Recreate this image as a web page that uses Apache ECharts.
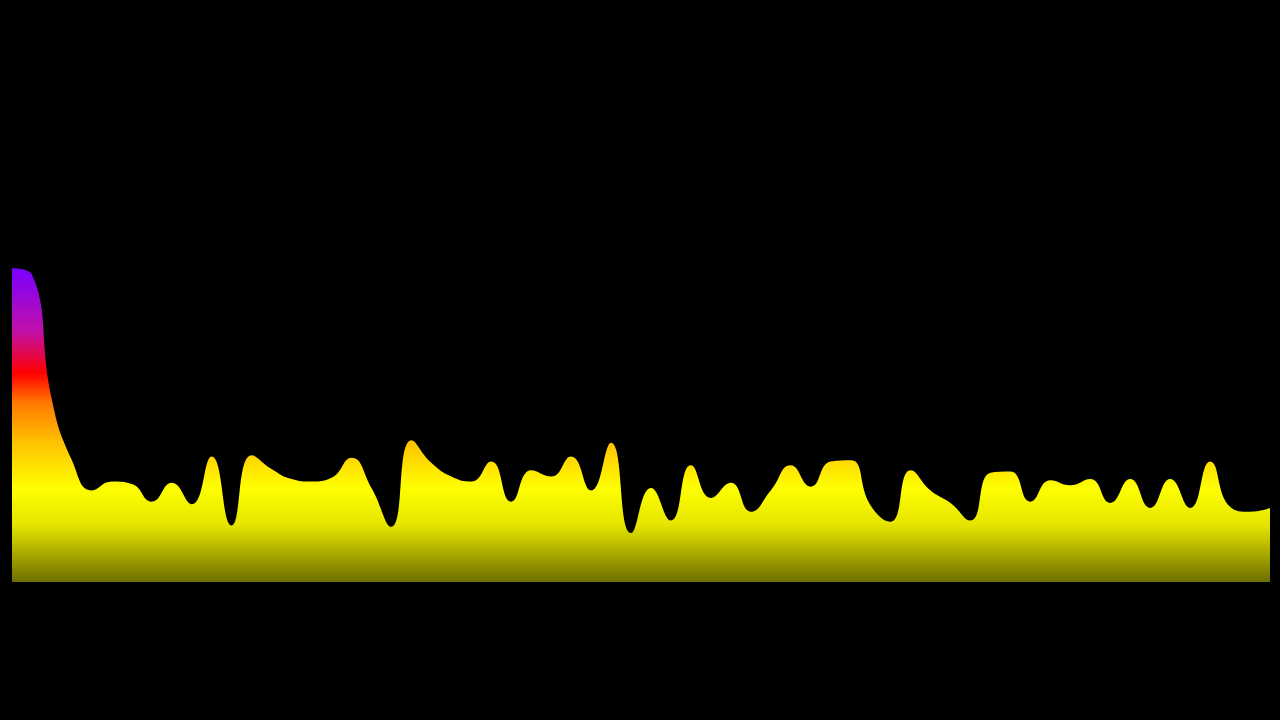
<!DOCTYPE html>
<html>
<head>
<meta charset="utf-8">
<script src="https://cdn.jsdelivr.net/npm/echarts@6/dist/echarts.min.js"></script>
<style>
html,body{margin:0;padding:0;background:#000;}
#chart{width:1280px;height:720px;}
</style>
</head>
<body>
<div id="chart"></div>
<script>
// Frequency bins (64) and their amplitudes (0-255)
const bins = Array.from({length: 64}, (_, i) => String(i));
const amplitudes = [
  250, 245, 145, 97, 73, 80, 78, 64, 79, 62,
  100, 45, 101, 90, 82, 80, 83, 99, 75, 44,
  113, 95, 84, 80, 96, 64, 89, 84, 100, 73,
  111, 39, 75, 49, 93, 67, 79, 56, 73, 93,
  76, 96, 97, 61, 48, 89, 73, 63, 49, 87,
  88, 64, 81, 77, 82, 63, 82, 59, 82, 59,
  96, 60, 56, 59
];
const yMax = 255;

const chart = echarts.init(document.getElementById('chart'), null, {renderer: 'canvas'});
chart.setOption({
  backgroundColor: '#000000',
  animation: false,
  grid: {left: 12, right: 10, top: 262, bottom: 138},
  xAxis: {
    type: 'category',
    data: bins,
    boundaryGap: false,
    show: false
  },
  yAxis: {
    type: 'value',
    min: 0,
    max: yMax,
    show: false
  },
  series: [{
    type: 'line',
    data: amplitudes,
    smooth: true,
    showSymbol: false,
    lineStyle: {width: 0},
    areaStyle: {
      opacity: 1,
      color: new echarts.graphic.LinearGradient(0, 0, 0, 1, [
        {offset: 0.0, color: '#7a00ff'},
        {offset: 0.2, color: '#c010a8'},
        {offset: 0.335, color: '#ff0000'},
        {offset: 0.43, color: '#ff7a00'},
        {offset: 0.56, color: '#ffc400'},
        {offset: 0.70, color: '#ffff00'},
        {offset: 0.82, color: '#e4e400'},
        {offset: 1.0, color: '#6e6e00'}
      ])
    }
  }]
});
</script>
</body>
</html>
